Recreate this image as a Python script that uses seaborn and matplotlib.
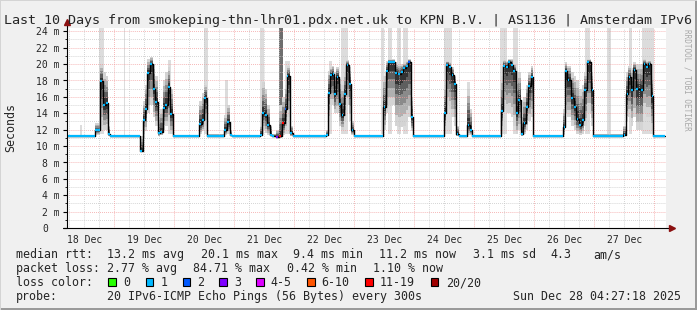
import numpy as np
import pandas as pd
import matplotlib
matplotlib.use("Agg")
import matplotlib.pyplot as plt
import seaborn as sns
from matplotlib.patches import Rectangle
from matplotlib.transforms import blended_transform_factory, offset_copy

# ---------------- data (x = hours since 2025-12-18 00:00) ----------------
seg_hours = [4.9, 16.1, 18.3, 19.5, 20.7, 21.5, 22.3,
             34.3, 35.5, 36.3, 37.1, 38.3, 39.5, 40.3, 41.5, 42.3, 43.5, 44.3, 45.5, 46.3, 47.5,
             57.9, 59.1, 59.9, 61.1,
             67.9, 69.1, 70.3, 71.1,
             82.3, 83.1, 84.3, 85.1, 86.3, 87.1, 88.7, 89.9, 91.1, 92.1, 92.9, 94.3, 95.5,
             108.6, 109.5, 110.3, 111.2, 111.9, 112.8, 113.9, 114.8, 115.9, 116.8, 117.9, 118.8, 119.9,
             131.6, 132.6, 133.5, 136.3, 137.5, 138.6, 139.5, 140.6, 141.5, 142.6, 143.6,
             155.9, 156.6, 157.9, 158.8, 159.9, 160.8, 161.9,
             165.2, 166.3, 167.2,
             178.6, 179.5, 180.6, 181.5, 182.6, 183.5, 184.6, 185.5, 186.6, 187.6, 188.6, 189.5, 190.6, 191.5,
             203.6, 204.3, 205.2, 206.6, 207.9, 208.8, 209.9, 211.0, 211.9, 213.0, 214.8, 215.6,
             227.6, 228.8, 229.6, 230.6, 231.6, 232.6, 234.6, 235.6, 236.6, 237.6, 238.8, 239.6]
end_hour = 244.2

seg_median = [11.2, 11.9, 17.9, 15.0, 15.2, 11.5, 11.2,
              9.4, 13.2, 14.5, 18.9, 20.0, 17.0, 15.4, 11.6, 11.7, 14.6, 15.0, 17.2, 13.9, 11.2,
              12.7, 13.2, 15.9, 11.2,
              11.9, 12.9, 11.4, 11.2,
              11.4, 14.0, 13.8, 12.6, 11.4, 11.2, 11.1, 11.2, 12.8, 14.5, 18.5, 11.6, 11.2,
              11.3, 16.5, 18.7, 18.8, 16.3, 18.4, 15.1, 13.8, 16.4, 19.9, 17.6, 11.9, 11.2,
              14.8, 19.1, 20.2, 18.9, 18.8, 19.0, 19.5, 19.8, 20.2, 13.5, 11.2,
              14.0, 19.9, 19.7, 18.7, 17.6, 11.5, 11.2,
              12.6, 12.0, 11.2,
              14.3, 19.8, 19.7, 20.2, 19.9, 19.2, 14.0, 15.6, 11.5, 12.8, 14.8, 17.3, 18.4, 11.2,
              12.3, 19.1, 18.1, 15.8, 14.8, 13.3, 12.6, 13.2, 16.8, 20.2, 16.8, 11.2,
              11.4, 16.3, 18.4, 16.8, 19.3, 16.9, 16.8, 20.0, 19.6, 20.0, 16.1, 11.2]

seg_low = [11.1, 11.3, 12.5, 12.0, 12.0, 11.2, 11.1,
           9.3, 11.0, 11.8, 14.0, 15.0, 13.5, 12.5, 11.2, 11.3, 12.0, 12.5, 13.0, 11.5, 11.1,
           11.5, 11.8, 12.5, 11.1,
           11.3, 11.5, 11.2, 11.1,
           11.2, 12.0, 11.6, 11.3, 11.2, 11.1, 11.0, 11.0, 11.3, 12.0, 13.5, 11.2, 11.1,
           11.2, 13.0, 15.0, 15.0, 14.0, 14.0, 12.5, 12.0, 13.0, 15.0, 13.0, 11.3, 11.1,
           12.0, 14.0, 15.0, 12.5, 12.3, 12.3, 12.5, 13.0, 13.5, 11.8, 11.1,
           12.0, 15.0, 14.5, 13.5, 12.5, 11.2, 11.1,
           11.3, 11.3, 11.1,
           12.0, 14.5, 14.0, 14.0, 13.5, 12.5, 11.5, 12.0, 11.2, 11.5, 12.0, 13.0, 13.5, 11.1,
           11.3, 14.0, 13.5, 12.5, 12.0, 11.5, 11.3, 11.5, 12.5, 14.0, 12.5, 11.1,
           11.2, 13.0, 13.5, 12.5, 13.5, 12.0, 12.0, 14.0, 13.5, 13.5, 12.0, 11.1]

seg_high = [11.3, 12.8, 20.0, 19.0, 18.6, 12.5, 11.4,
            11.2, 15.5, 17.5, 20.6, 20.9, 20.0, 18.5, 13.5, 14.5, 18.0, 19.0, 19.6, 17.0, 11.4,
            15.5, 16.5, 17.5, 11.5,
            13.8, 15.0, 12.0, 11.3,
            12.5, 17.8, 17.0, 15.0, 12.5, 11.5, 12.0, 15.0, 16.0, 17.5, 19.8, 12.5, 11.3,
            12.0, 19.2, 19.6, 19.8, 19.0, 19.6, 18.2, 17.5, 19.0, 20.5, 19.6, 13.0, 11.3,
            18.5, 20.4, 20.6, 20.2, 20.0, 20.0, 20.2, 20.4, 20.6, 16.0, 11.4,
            17.5, 20.4, 20.2, 19.6, 18.6, 12.5, 11.4,
            17.0, 14.5, 11.4,
            18.5, 20.5, 20.4, 20.6, 20.6, 20.0, 18.5, 19.0, 13.5, 16.0, 17.5, 19.0, 19.8, 11.4,
            14.5, 20.3, 19.8, 19.0, 18.5, 18.0, 17.0, 17.5, 19.0, 20.6, 19.0, 11.5,
            12.5, 19.0, 19.8, 19.5, 20.2, 20.0, 20.0, 20.6, 20.4, 20.4, 18.5, 11.4]

# lost pings (out of 20) per segment
seg_loss = [1] * 7 + [1] * 14 + [1] * 4 + [1] * 4 + \
           [1, 1, 1, 1, 1, 1, 3, 12, 12, 2, 1, 1, 1] + [1] * 13 + \
           [1, 1, 1, 1, 1, 1, 1, 1, 2, 1, 1] + [1] * 7 + [1] * 3 + [1] * 14 + [1] * 12 + [1] * 12

# sparse outlier columns of the smoke
spike_start = [10.3, 17.9, 27.7, 45.5, 59.9, 68.3, 82.3, 89.9, 92.1, 109.9, 114.8, 130.7, 133.5,
               137.1, 139.5, 155.9, 165.1, 178.3, 183.5, 212.3, 221.1, 229.9, 235.1]
spike_end = [11.1, 19.9, 28.3, 46.7, 61.5, 69.5, 83.9, 91.5, 94.1, 111.1, 117.5, 132.0, 135.1,
             138.7, 141.5, 159.1, 166.3, 181.1, 185.5, 214.3, 222.7, 231.1, 239.9]
spike_bottom = [11.3, 11.5, 11.3, 11.5, 11.5, 11.5, 11.5, 15.0, 11.5, 11.5, 11.5, 11.5, 11.5,
                11.5, 11.5, 11.5, 11.5, 11.5, 11.5, 11.5, 11.3, 11.5, 11.5]
spike_top = [12.6, 24.4, 24.4, 20.5, 24.4, 18.0, 24.4, 24.4, 20.4, 20.4, 24.4, 24.4, 24.4,
             24.4, 24.4, 24.4, 17.8, 24.4, 24.4, 24.4, 24.4, 24.4, 24.4]
spike_dark = [False] * 7 + [True] + [False] * 15

day_labels = ["18 Dec", "19 Dec", "20 Dec", "21 Dec", "22 Dec",
              "23 Dec", "24 Dec", "25 Dec", "26 Dec", "27 Dec"]
y_values = [0, 2, 4, 6, 8, 10, 12, 14, 16, 18, 20, 22, 24]
y_labels = ["0", "2 m", "4 m", "6 m", "8 m", "10 m", "12 m", "14 m", "16 m",
            "18 m", "20 m", "22 m", "24 m"]

title = "Last 10 Days from smokeping-thn-lhr01.pdx.net.uk to KPN B.V. | AS1136 | Amsterdam IPv6"
rtt_texts = ["13.2 ms avg", "20.1 ms max", "9.4 ms min", "11.2 ms now", "3.1 ms sd", "4.3", "am/s"]
loss_texts = ["2.77 % avg", "84.71 % max", "0.42 % min", "1.10 % now"]
loss_labels = ["0", "1", "2", "3", "4-5", "6-10", "11-19", "20/20"]
loss_colors = ["#26ff00", "#00b8ff", "#0059ff", "#7e00ff", "#dd00ff", "#ff5500", "#ff0000", "#a00000"]
loss_upper = [0, 1, 2, 3, 5, 10, 19, 20]
probe_text = "20 IPv6-ICMP Echo Pings (56 Bytes) every 300s"
date_text = "Sun Dec 28 04:27:18 2025"

# ---------------- figure ----------------
W, H = 697, 310
sns.set_theme(style="white")
plt.rcParams['font.family'] = ['DejaVu Sans Mono', 'DejaVu Sans']

fig = plt.figure(figsize=(W / 100, H / 100), dpi=100, facecolor='#f0f0f0')


def fx(x):
    return x / W


def fy(y):
    return 1 - y / H


ax_l, ax_r, ax_t, ax_b = 66.7, 666.0, 28.0, 228.0
ax = fig.add_axes([fx(ax_l), fy(ax_b), (ax_r - ax_l) / W, (ax_b - ax_t) / H])
ax.set_facecolor('white')
ax.set_xlim(4.96, 244.7)
ax.set_ylim(0, 24.4)
for s in ax.spines.values():
    s.set_visible(False)

# frame shading
fig.add_artist(Rectangle((0, fy(H)), fx(W), 2 / H, transform=fig.transFigure, color='#9a9a9a', lw=0))
fig.add_artist(Rectangle((fx(W - 2), 0), 2 / W, 1, transform=fig.transFigure, color='#9a9a9a', lw=0))
fig.add_artist(Rectangle((0, fy(1)), 1, 1 / H, transform=fig.transFigure, color='#d4d4d4', lw=0))
fig.add_artist(Rectangle((0, 0), 1 / W, 1, transform=fig.transFigure, color='#d4d4d4', lw=0))

edges = np.array(seg_hours + [end_hour])
med = np.array(seg_median + [seg_median[-1]])
lo = np.array(seg_low + [seg_low[-1]])
hi = np.array(seg_high + [seg_high[-1]])

# outlier columns
for s0, s1, b, t, d in zip(spike_start, spike_end, spike_bottom, spike_top, spike_dark):
    ax.fill_between([s0, s1], [b, b], [t, t], color='#6e6e6e' if d else '#dcdcdc', lw=0, zorder=1)

# smoke layers
layers = [(1.0, '#d4d4d4'), (0.8, '#b0b0b0'), (0.6, '#8a8a8a'), (0.4, '#5e5e5e'), (0.2, '#333333')]
for f, c in layers:
    ax.fill_between(edges, med - f * (med - lo), med + f * (hi - med), step='post',
                    color=c, lw=0, zorder=2)

# grid
minor_c, major_c = '#c4c4c4', '#f29a9a'
dot = (0, (0.7, 1.4))
for v in range(1, 25):
    ax.axhline(v, color=major_c if v % 2 == 0 else minor_c, lw=0.7, ls=dot, zorder=3)
for h in range(6, 245, 6):
    ax.axvline(h, color=major_c if h % 24 == 0 else minor_c, lw=0.7, ls=dot, zorder=3)

# median line
sns.lineplot(x=edges, y=med, drawstyle='steps-post', color='black', linewidth=1.0,
             ax=ax, zorder=4, sort=False)


def loss_color(n):
    for up, c in zip(loss_upper, loss_colors):
        if n <= up:
            return c
    return loss_colors[-1]


for i in range(len(seg_hours)):
    t0, t1 = edges[i], edges[i + 1]
    a, b = (t0, t1) if t1 - t0 > 2.0 else (t0 + 0.15, t0 + min(0.75, t1 - t0))
    ax.hlines(seg_median[i], a, b, colors=loss_color(seg_loss[i]), lw=1.6, zorder=5)

# axes lines and arrows
ax.plot([0, 0], [0, 1.03], transform=ax.transAxes, clip_on=False, color='black', lw=0.8, zorder=6)
ax.plot([-0.006, 1.01], [0, 0], transform=ax.transAxes, clip_on=False, color='black', lw=0.8, zorder=6)
ax.plot([0], [1.03], marker='^', ms=4, color='#8b1010', transform=ax.transAxes, clip_on=False, zorder=7)
ax.plot([1.01], [0], marker='>', ms=4, color='#8b1010', transform=ax.transAxes, clip_on=False, zorder=7)

# ticks
ax.set_yticks(y_values)
ax.set_yticklabels([])
ax.set_yticks(list(range(1, 25, 2)), minor=True)
ax.tick_params(axis='y', which='major', length=3, width=0.8, color='black', direction='out', left=True)
ax.tick_params(axis='y', which='minor', length=1.5, width=0.6, color='black', direction='out', left=True)
ax.set_xticks([12 + 24 * i for i in range(len(day_labels))])
ax.set_xticklabels(day_labels, fontsize=7, family='DejaVu Sans Mono')
ax.tick_params(axis='x', length=0, pad=5, bottom=True)
ax.grid(False)

tr = offset_copy(blended_transform_factory(fig.transFigure, ax.transData), fig=fig, x=0, y=-1.2, units='dots')
for v, s in zip(y_values, y_labels):
    ax.text(fx(59.5 if v else 47.8), v, s, transform=tr, ha='right', va='center', fontsize=7)

# texts
fig.text(fx(4), fy(24.3), title, fontsize=9.6, va='baseline', ha='left')
fig.text(fx(11), fy(127), 'Seconds', rotation=90, ha='center', va='center', fontsize=8.4)
fig.text(fx(687), fy(80), 'RRDTOOL / TOBI OETIKER', rotation=270, ha='center', va='center',
         fontsize=5.5, color='#a8a8a8')

fs = 8.4
fig.text(fx(16), fy(258), 'median rtt:', fontsize=fs, va='baseline')
for x, s in zip([107.3, 200.7, 293.0, 379.3, 472.7, 550.7, 593.3], rtt_texts):
    fig.text(fx(x), fy(258), s, fontsize=fs, va='baseline')
fig.text(fx(16), fy(272), 'packet loss:', fontsize=fs, va='baseline')
for x, s in zip([107.3, 193.3, 286.7, 372.7], loss_texts):
    fig.text(fx(x), fy(272), s, fontsize=fs, va='baseline')
fig.text(fx(16), fy(286), 'loss color:', fontsize=fs, va='baseline')
box_x = [108.3, 145.7, 182.7, 219.3, 256.0, 307.3, 365.0, 430.7]
lab_x = [123.3, 160.7, 197.3, 234.0, 270.7, 321.7, 380.0, 446.0]
for bx, lx, s, c in zip(box_x, lab_x, loss_labels, loss_colors):
    fig.add_artist(Rectangle((fx(bx), fy(285.5)), 7.5 / W, 7.5 / H, transform=fig.transFigure,
                             facecolor=c, edgecolor='black', lw=0.8))
    fig.text(fx(lx), fy(286), s, fontsize=fs, va='baseline')
fig.text(fx(16), fy(300), 'probe:', fontsize=fs, va='baseline')
fig.text(fx(107.3), fy(300), probe_text, fontsize=fs, va='baseline')
fig.text(fx(513.3), fy(300), date_text, fontsize=fs, va='baseline')

fig.savefig('out.png', dpi=100, facecolor=fig.get_facecolor())
